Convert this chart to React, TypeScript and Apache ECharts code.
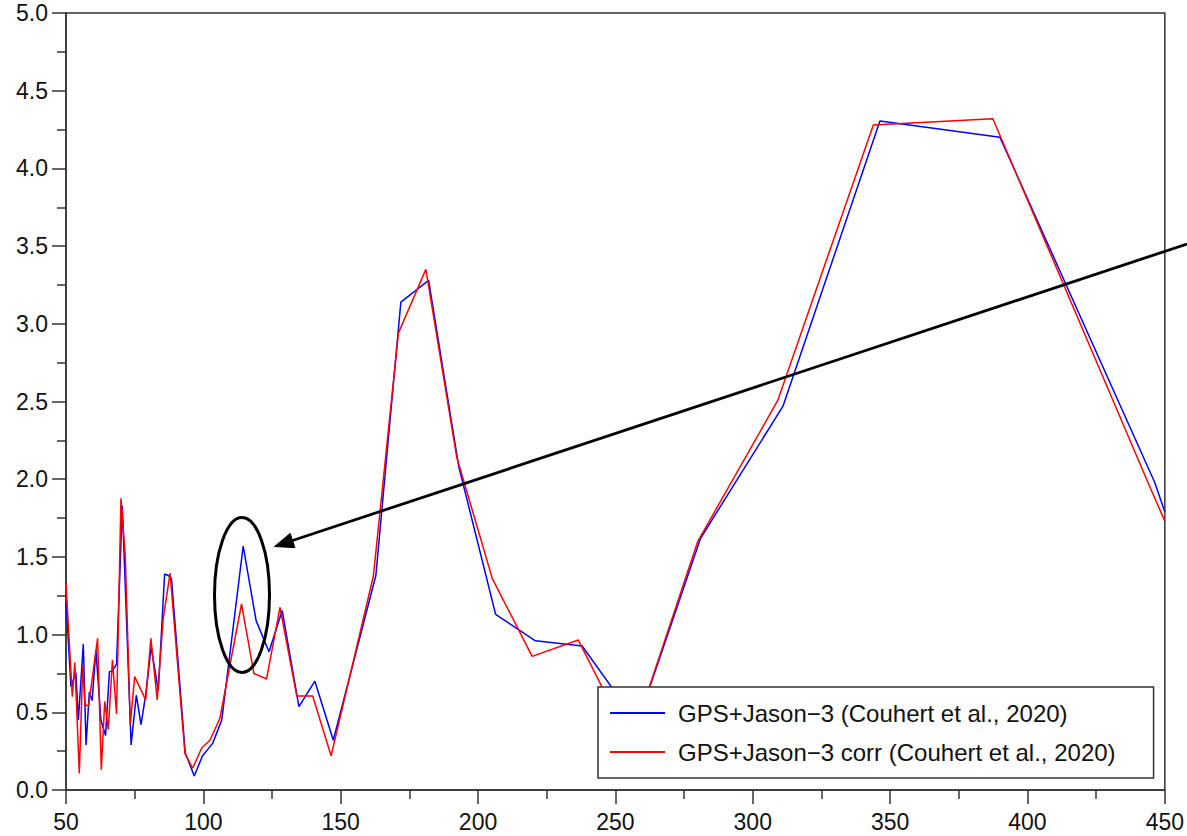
import React, { useEffect, useRef } from "react";
import * as echarts from "echarts";

const blueName = "GPS+Jason\u22123 (Couhert et al., 2020)";
const redName = "GPS+Jason\u22123 corr (Couhert et al., 2020)";

const blueX = [50, 51.8, 53.6, 54.5, 56.3, 57.3, 58.5, 59.5, 60.9, 62.7, 64.4, 65.8, 67.0, 68.4, 70.5, 73.7, 75.6, 77.3, 79.0, 81.0, 83.6, 85.9, 87.2, 88.4, 93.4, 96.7, 99.7, 103.4, 106.7, 114.5, 119.2, 123.9, 128.7, 134.8, 140.6, 147.3, 162.8, 171.9, 182.0, 193.0, 206.4, 220.9, 237.9, 258, 281, 311.0, 346.3, 390.0, 446.3, 450];
const blueY = [1.22, 0.665, 0.755, 0.45, 0.94, 0.29, 0.63, 0.575, 0.9, 0.45, 0.35, 0.76, 0.77, 0.81, 1.83, 0.29, 0.61, 0.42, 0.61, 0.92, 0.64, 1.39, 1.38, 1.36, 0.24, 0.09, 0.22, 0.3, 0.45, 1.57, 1.09, 0.89, 1.155, 0.536, 0.7, 0.32, 1.38, 3.14, 3.28, 2.08, 1.13, 0.96, 0.927, 0.43, 1.62, 2.47, 4.305, 4.2, 1.98, 1.79];

const redX = [50, 52.3, 53.2, 54.85, 56.1, 56.9, 58.2, 61.5, 62.85, 64.1, 65.4, 66.9, 68.4, 70.0, 71.6, 73.4, 75.0, 79.0, 80.9, 83.2, 85.4, 87.9, 93.3, 96.1, 99.4, 102.4, 106.0, 113.9, 118.4, 123.0, 127.9, 134.0, 139.8, 146.5, 161.9, 171.0, 181.0, 192.2, 205.2, 219.7, 236.5, 255.5, 280, 309.1, 343.9, 387.4, 443.6, 450];
const redY = [1.33, 0.6, 0.82, 0.107, 0.8, 0.55, 0.54, 0.976, 0.13, 0.57, 0.39, 0.837, 0.49, 1.877, 1.5, 0.42, 0.73, 0.58, 0.976, 0.58, 1.105, 1.395, 0.236, 0.14, 0.27, 0.32, 0.46, 1.197, 0.75, 0.714, 1.175, 0.605, 0.605, 0.22, 1.377, 2.94, 3.35, 2.145, 1.36, 0.86, 0.965, 0.3, 1.6, 2.507, 4.28, 4.32, 1.99, 1.73];

const xMin = 50;
const xMax = 450;
const xStep = 50;
const yMin = 0;
const yMax = 5;
const yStep = 0.5;

const FONT = "'Liberation Sans', Arial, Helvetica, sans-serif";

function zip(xs: number[], ys: number[]) {
  return xs.map((x, i) => [x, ys[i]]);
}

export default function App() {
  const ref = useRef<HTMLDivElement>(null);
  useEffect(() => {
    if (!ref.current) return;
    const chart = echarts.init(ref.current, null, { renderer: "svg" });

    // arrow geometry (annotation)
    const tail = [1187, 244];
    const tip = [274.5, 546.5];
    const dx = tail[0] - tip[0];
    const dy = tail[1] - tip[1];
    const len = Math.sqrt(dx * dx + dy * dy);
    const ux = dx / len;
    const uy = dy / len;
    const headLen = 19;
    const headHalf = 7.5;
    const bx = tip[0] + ux * headLen;
    const by = tip[1] + uy * headLen;
    const px = -uy;
    const py = ux;

    const axisColor = "#333";
    chart.setOption({
      animation: false,
      backgroundColor: "#fff",
      grid: {
        left: 66,
        right: 22,
        top: 13,
        bottom: 46,
        show: true,
        borderColor: axisColor,
        borderWidth: 1.5,
        backgroundColor: "transparent",
      },
      xAxis: {
        type: "value",
        min: xMin,
        max: xMax,
        interval: xStep,
        axisLine: { show: true, lineStyle: { color: axisColor, width: 1.5 } },
        axisTick: { show: true, length: 14, lineStyle: { color: axisColor, width: 1.5 } },
        minorTick: { show: true, splitNumber: 2, length: 9, lineStyle: { color: axisColor, width: 1.5 } },
        splitLine: { show: false },
        axisLabel: { color: "#111", fontSize: 23, fontFamily: FONT, margin: 20 },
      },
      yAxis: {
        type: "value",
        min: yMin,
        max: yMax,
        interval: yStep,
        axisLine: { show: true, lineStyle: { color: axisColor, width: 1.5 } },
        axisTick: { show: true, length: 14, lineStyle: { color: axisColor, width: 1.5 } },
        minorTick: { show: true, splitNumber: 2, length: 9, lineStyle: { color: axisColor, width: 1.5 } },
        splitLine: { show: false },
        axisLabel: {
          color: "#111",
          fontSize: 23,
          fontFamily: FONT,
          margin: 18,
          formatter: (v: number) => v.toFixed(1),
        },
      },
      legend: {
        orient: "vertical",
        left: 598,
        top: 687,
        backgroundColor: "#fff",
        borderColor: axisColor,
        borderWidth: 1.5,
        borderRadius: 0,
        padding: [14, 38, 14, 12],
        itemGap: 15,
        itemWidth: 55,
        itemHeight: 2,
        icon: "rect",
        textStyle: { color: "#111", fontSize: 24, fontFamily: FONT, padding: [0, 0, 0, 8] },
        data: [blueName, redName],
      },
      series: [
        {
          name: blueName,
          type: "line",
          symbol: "none",
          color: "#0000ff",
          lineStyle: { color: "#0000ff", width: 1.5 },
          data: zip(blueX, blueY),
        },
        {
          name: redName,
          type: "line",
          symbol: "none",
          color: "#ff0000",
          lineStyle: { color: "#ff0000", width: 1.5 },
          data: zip(redX, redY),
        },
      ],
      graphic: [
        {
          type: "ellipse",
          z: 100,
          shape: { cx: 242, cy: 595, rx: 27.5, ry: 77.5 },
          style: { fill: "none", stroke: "#000", lineWidth: 3 },
        },
        {
          type: "line",
          z: 100,
          shape: { x1: tail[0], y1: tail[1], x2: bx, y2: by },
          style: { stroke: "#000", lineWidth: 2.8 },
        },
        {
          type: "polygon",
          z: 100,
          shape: {
            points: [
              [tip[0], tip[1]],
              [bx + px * headHalf, by + py * headHalf],
              [bx - px * headHalf, by - py * headHalf],
            ],
          },
          style: { fill: "#000", stroke: "#000", lineWidth: 1 },
        },
      ],
    });
    return () => chart.dispose();
  }, []);
  return <div ref={ref} style={{ width: 1187, height: 836, position: "absolute", left: 0, top: 0 }} />;
}
